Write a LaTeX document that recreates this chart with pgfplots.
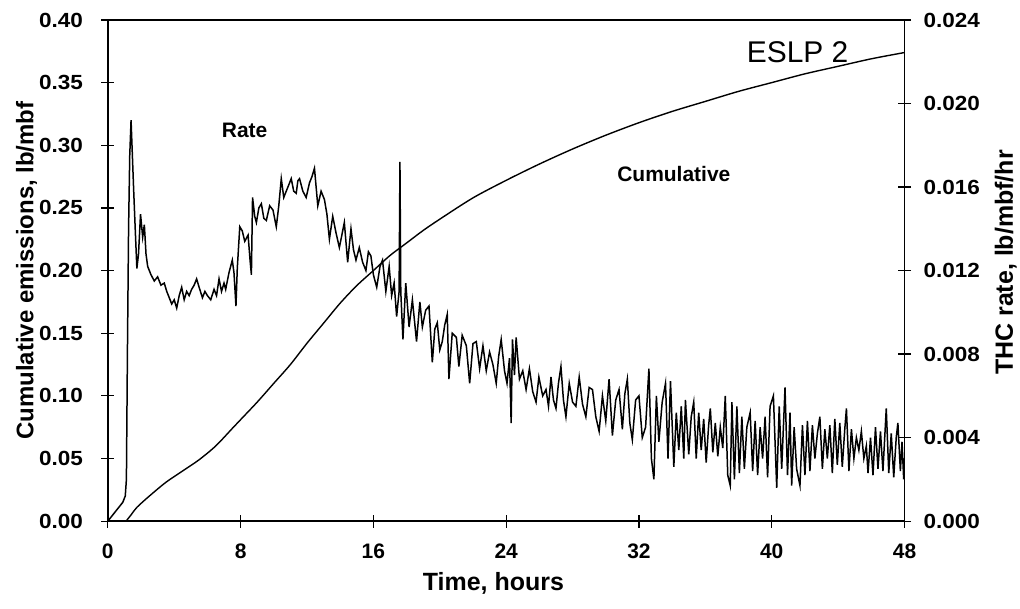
\documentclass[border=0pt]{standalone}
\usepackage{fontspec}
\setmainfont{Liberation Sans}
\newfontfamily\ytickfam[FakeStretch=1.1]{Liberation Sans}
\usepackage{pgfplots}
\pgfplotsset{compat=1.18}

\begin{document}
\begin{tikzpicture}
\pgfplotsset{
  common/.style={
    width=798pt, height=502pt, scale only axis,
    xmin=0, xmax=48,
    axis line style={line width=1.6pt},
    tick align=center,
    major tick length=13pt,
    tick style={line width=1.2pt, black},
    /pgf/number format/assume math mode=true,
    yticklabel style={font=\ytickfam\fontsize{20.5}{20.5}\selectfont\bfseries},
    xticklabel style={font=\fontsize{21}{21}\selectfont\bfseries, yshift=-13pt},
  }
}
\begin{axis}[common,
  ymin=0, ymax=0.40,
  ytick={0,0.05,0.10,0.15,0.20,0.25,0.30,0.35,0.40},
  yticklabel style={xshift=-15pt, /pgf/number format/.cd, fixed, fixed zerofill, precision=2},
  xtick={0,8,16,24,32,40,48},
  xtick pos=left, ytick pos=left,
  clip=false,
  xlabel={Time, hours},
  ylabel={Cumulative emissions, lb/mbf},
  every axis x label/.style={at={(axis description cs:0.484,-0.124)}, anchor=center, font=\fontsize{25}{25}\selectfont\bfseries},
  every axis y label/.style={at={(axis description cs:-0.102,0.50)}, anchor=center, rotate=90, font=\fontsize{24}{24}\selectfont\bfseries},
]
\addplot[black, line width=1.4pt, smooth, tension=0.5] table {
1.1 0
1.4 0.005
1.75 0.011
2.5 0.020
3.5 0.031
4.5 0.040
5.5 0.049
6.5 0.060
7.5 0.074
8 0.081
9 0.095
10 0.110
11 0.125
12 0.142
13 0.158
14 0.174
15 0.188
16 0.200
17 0.212
18 0.222
19 0.232
20 0.241
22 0.258
24 0.272
26 0.285
28 0.297
30 0.308
32 0.318
34 0.327
36 0.335
38 0.343
40 0.350
42 0.357
44 0.363
46 0.369
48 0.374
};
\node[font=\fontsize{21}{21}\selectfont\bfseries] at (axis cs:8.24,0.3116) {Rate};
\node[font=\fontsize{21}{21}\selectfont\bfseries] at (axis cs:34.1,0.2773) {Cumulative};
\node[font=\fontsize{30}{30}\selectfont] at (axis cs:41.56,0.3745) {ESLP 2};
\end{axis}
\begin{axis}[common,
  ymin=0, ymax=0.024,
  axis x line=none,
  axis y line*=right,
  ytick={0,0.004,0.008,0.012,0.016,0.020,0.024},
  scaled y ticks=false,
  yticklabel style={xshift=9pt, /pgf/number format/.cd, fixed, fixed zerofill, precision=3},
  ylabel={THC rate, lb/mbf/hr},
  every axis y label/.style={at={(axis description cs:1.127,0.516)}, anchor=center, rotate=90, font=\fontsize{25}{25}\selectfont\bfseries},
]
\addplot[black, line width=1.5pt] table {
0 0
0.5 0.0005
0.9 0.0009
1.05 0.0012
1.12 0.002
1.18 0.008
1.25 0.014
1.32 0.0175
1.4 0.0192
1.48 0.0175
1.55 0.0160
1.65 0.0140
1.75 0.0121
1.85 0.0128
1.97 0.0147
2.1 0.0136
2.2 0.0142
2.3 0.0128
2.4 0.0122
2.6 0.0118
2.8 0.0115
3.0 0.0117
3.2 0.0113
3.4 0.0114
3.55 0.0110
3.7 0.0107
3.85 0.0104
4.0 0.0106
4.15 0.0102
4.3 0.0108
4.45 0.0112
4.6 0.0106
4.75 0.0110
4.9 0.0108
5.05 0.0111
5.2 0.0113
5.35 0.0116
5.5 0.0112
5.7 0.0107
5.85 0.0110
6.0 0.0108
6.2 0.0106
6.4 0.0111
6.55 0.0108
6.7 0.0116
6.85 0.0110
7.0 0.0114
7.1 0.0111
7.3 0.0119
7.5 0.0125
7.6 0.0119
7.72 0.0103
7.8 0.0121
7.95 0.0141
8.1 0.0139
8.25 0.0134
8.45 0.0137
8.58 0.0124
8.65 0.0118
8.72 0.0155
8.85 0.0146
8.95 0.0143
9.1 0.0150
9.25 0.0152
9.4 0.0145
9.55 0.0144
9.75 0.0151
9.95 0.0149
10.15 0.0141
10.3 0.0151
10.45 0.0164
10.6 0.0155
10.75 0.0158
10.9 0.0161
11.05 0.0164
11.2 0.0158
11.35 0.0157
11.45 0.0163
11.55 0.0164
11.75 0.0158
11.95 0.0155
12.15 0.0162
12.3 0.0165
12.45 0.0169
12.55 0.0160
12.65 0.0151
12.85 0.0158
13.05 0.0154
13.2 0.0147
13.35 0.0135
13.55 0.0146
13.75 0.0138
13.95 0.0131
14.1 0.0137
14.25 0.0143
14.45 0.0124
14.65 0.0140
14.8 0.0130
14.95 0.0125
15.15 0.0131
15.35 0.0124
15.55 0.0120
15.7 0.0129
15.85 0.0127
16.0 0.0118
16.2 0.0112
16.4 0.0122
16.55 0.0125
16.75 0.0110
16.95 0.0122
17.1 0.0108
17.25 0.0114
17.4 0.0098
17.55 0.0110
17.6 0.0172
17.65 0.0110
17.78 0.0087
17.95 0.0114
18.15 0.0093
18.35 0.0106
18.6 0.0086
18.8 0.0105
18.95 0.0093
19.15 0.0101
19.35 0.0103
19.55 0.0076
19.7 0.0092
19.85 0.0095
20.0 0.0082
20.15 0.0086
20.3 0.0094
20.45 0.0099
20.55 0.0068
20.75 0.0090
21.0 0.0088
21.15 0.0074
21.35 0.0089
21.6 0.0084
21.8 0.0066
22.0 0.0085
22.2 0.0086
22.4 0.0073
22.6 0.0084
22.8 0.0072
23.0 0.0081
23.2 0.0075
23.4 0.0066
23.55 0.0079
23.7 0.0087
23.9 0.0072
24.05 0.0066
24.2 0.0078
24.3 0.0047
24.38 0.0087
24.5 0.0070
24.6 0.0088
24.8 0.0068
25.0 0.0072
25.2 0.0063
25.4 0.0073
25.6 0.0062
25.8 0.0057
25.97 0.0069
26.2 0.0060
26.4 0.0063
26.55 0.0055
26.7 0.0069
26.85 0.0058
27.0 0.0054
27.15 0.0066
27.3 0.0074
27.45 0.0058
27.6 0.0050
27.8 0.0066
28.0 0.0057
28.2 0.0055
28.4 0.0069
28.6 0.0056
28.8 0.0050
29.0 0.0064
29.2 0.0063
29.4 0.0050
29.6 0.0043
29.8 0.0060
30.0 0.0048
30.2 0.0068
30.4 0.0041
30.6 0.0058
30.8 0.0063
31.0 0.0044
31.15 0.0061
31.3 0.0068
31.45 0.0047
31.6 0.0039
31.8 0.0058
32.0 0.0060
32.2 0.0040
32.4 0.0045
32.6 0.0073
32.75 0.0030
32.9 0.0020
33.05 0.0060
33.2 0.0038
33.4 0.0057
33.6 0.0066
33.75 0.0030
33.9 0.0067
34.1 0.0026
34.25 0.0052
34.4 0.0034
34.55 0.0055
34.7 0.0030
34.8 0.0058
35.0 0.0032
35.15 0.0050
35.3 0.0057
35.45 0.0030
35.6 0.0052
35.75 0.0034
35.9 0.0049
36.05 0.0028
36.2 0.0046
36.3 0.0054
36.45 0.0033
36.6 0.0047
36.75 0.0031
36.9 0.0045
37.05 0.0035
37.2 0.0060
37.35 0.0022
37.5 0.0017
37.6 0.0057
37.75 0.0020
37.9 0.0055
38.05 0.0023
38.2 0.0050
38.35 0.0025
38.5 0.0045
38.7 0.0052
38.85 0.0024
39.0 0.0048
39.15 0.0022
39.3 0.0045
39.45 0.0030
39.6 0.0050
39.75 0.0021
39.9 0.0055
40.1 0.0060
40.3 0.0016
40.45 0.0055
40.6 0.0025
40.8 0.0064
40.95 0.0022
41.1 0.0052
41.2 0.0017
41.35 0.0045
41.5 0.0025
41.7 0.0017
41.85 0.0046
42.0 0.0022
42.15 0.0048
42.3 0.0024
42.45 0.0046
42.6 0.0030
42.75 0.0042
42.9 0.0050
43.05 0.0025
43.2 0.0044
43.35 0.0030
43.5 0.0046
43.65 0.0023
43.8 0.0049
43.95 0.0027
44.1 0.0047
44.25 0.0026
44.4 0.0044
44.5 0.0054
44.65 0.0024
44.8 0.0044
44.95 0.0030
45.1 0.0040
45.25 0.0034
45.4 0.0043
45.55 0.0030
45.7 0.0036
45.8 0.0023
45.95 0.0040
46.1 0.0022
46.25 0.0045
46.4 0.0025
46.55 0.0043
46.7 0.0024
46.9 0.0054
47.05 0.0023
47.2 0.0042
47.35 0.0021
47.5 0.0040
47.6 0.0047
47.75 0.0024
47.85 0.0038
47.95 0.0020
48.0 0.0030
};
\end{axis}
\path[use as bounding box] (-108pt,-87pt) rectangle (912pt,522pt);
\end{tikzpicture}
\end{document}
